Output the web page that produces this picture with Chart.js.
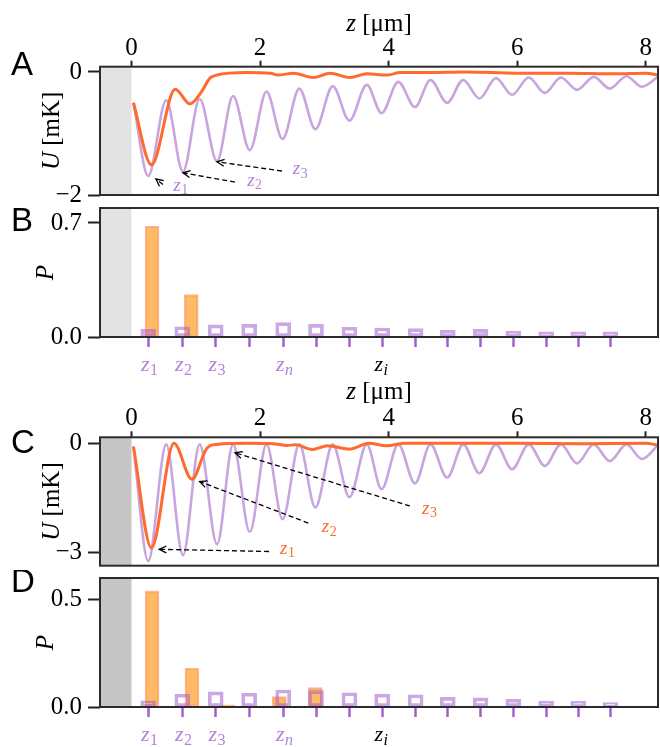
<!DOCTYPE html>
<html>
<head>
<meta charset="utf-8">
<script src="https://cdn.jsdelivr.net/npm/chart.js@4.4.1/dist/chart.umd.min.js"></script>
<style>
  body { margin: 0; background: #fff; }
  #wrap { position: relative; width: 660px; height: 747px; }
  canvas { position: absolute; left: 0; }
</style>
</head>
<body>
<div id="wrap">
  <canvas id="panelA" width="660" height="212" style="top:0px"></canvas>
  <canvas id="panelB" width="660" height="180" style="top:200px"></canvas>
  <canvas id="panelC" width="660" height="200" style="top:380px"></canvas>
  <canvas id="panelD" width="660" height="177" style="top:570px"></canvas>
</div>
<script>
// ---- values ----
const zMin = -0.49, zMax = 8.19;
const zTicks = [0, 2, 4, 6, 8];

// lattice sites z_i [um] and their labels
const siteZ = [0.26, 0.79, 1.31, 1.83, 2.36, 2.87, 3.39, 3.90, 4.42, 4.92, 5.43, 5.94, 6.45, 6.95, 7.45];
const siteSub = ["1", "2", "3", "", "n", "", "", "", "", "", "", "", "", "", ""];

// lattice potential: start, then alternating minima / maxima
const zLattice = [0.03, 0.26, 0.54, 0.80, 1.06, 1.33, 1.58, 1.84, 2.10, 2.35, 2.61, 2.86, 3.13, 3.39, 3.66,
  3.89, 4.15, 4.41, 4.65, 4.91, 5.16, 5.41, 5.67, 5.92, 6.18, 6.43, 6.68, 6.93, 7.19, 7.44, 7.70, 7.94, 8.20];
const uLatticeA = [-0.50, -1.69, -0.46, -1.62, -0.44, -1.45, -0.39, -1.27, -0.32, -1.09, -0.27, -0.93, -0.23,
  -0.79, -0.21, -0.67, -0.16, -0.57, -0.13, -0.50, -0.13, -0.43, -0.10, -0.37, -0.09, -0.34, -0.09, -0.29,
  -0.08, -0.27, -0.07, -0.24, -0.07];
const uLatticeC = [-0.09, -3.23, -0.03, -3.07, -0.03, -2.77, -0.03, -2.43, -0.03, -2.08, -0.03, -1.76, -0.03,
  -1.48, -0.03, -1.26, -0.03, -1.10, -0.03, -0.94, -0.03, -0.82, -0.03, -0.71, -0.03, -0.62, -0.03, -0.55,
  -0.03, -0.49, -0.03, -0.43, -0.03];

// effective (orange) potential
const zOrangeA = [0.03, 0.31, 0.68, 0.91, 1.09, 1.22, 1.33, 1.79, 2.16, 2.28, 2.52, 2.83, 3.09, 3.40, 3.66,
  3.97, 4.18, 4.6, 5.2, 6.0, 6.8, 7.5, 8.0, 8.19];
const uOrangeA = [-0.50, -1.51, -0.28, -0.52, -0.32, -0.10, -0.05, -0.01, -0.02, -0.05, -0.02, -0.09, -0.02,
  -0.09, -0.03, -0.05, -0.01, -0.01, 0.0, -0.02, -0.02, -0.03, -0.02, -0.05];
const zOrangeC = [0.03, 0.31, 0.66, 0.94, 1.17, 1.33, 1.80, 2.20, 2.42, 2.55, 2.81, 3.05, 3.40, 3.69, 3.97,
  4.25, 5.0, 6.0, 7.0, 8.0, 8.19];
const uOrangeC = [-0.09, -2.87, 0.0, -0.99, -0.14, -0.03, 0.0, -0.01, -0.06, -0.04, -0.17, -0.07, -0.16, 0.0,
  -0.07, 0.0, 0.0, 0.0, -0.01, 0.0, -0.05];

// occupation probabilities
const pLatticeB = [0.047, 0.063, 0.074, 0.078, 0.088, 0.078, 0.060, 0.055, 0.051, 0.041, 0.047, 0.037, 0.031, 0.031, 0.031];
const zOrangeB = [0.32, 0.93];
const pOrangeB = [0.68, 0.26];
const pLatticeD = [0.029, 0.059, 0.070, 0.064, 0.079, 0.076, 0.066, 0.060, 0.057, 0.045, 0.042, 0.036, 0.028, 0.026, 0.020];
const zOrangeD = [0.32, 0.94, 1.50, 2.30, 2.86];
const pOrangeD = [0.54, 0.18, 0.01, 0.048, 0.09];

// arrow annotations: [label sub, label pos, tail, head] in (z, U)
const notesA = [
  ["1", [0.65, -1.85], [0.49, -1.83], [0.38, -1.74]],
  ["2", [1.80, -1.77], [1.61, -1.79], [0.80, -1.64]],
  ["3", [2.51, -1.58], [2.34, -1.61], [1.33, -1.46]],
];
const notesC = [
  ["1", [2.31, -2.90], [2.14, -2.97], [0.43, -2.91]],
  ["2", [2.96, -2.30], [2.75, -2.19], [1.06, -1.05]],
  ["3", [4.52, -1.80], [4.33, -1.72], [1.61, -0.26]],
];

// ---- styling ----
const SERIF = '"Liberation Serif", "DejaVu Serif", serif';
const SANS = '"Liberation Sans", Arial, sans-serif';
const ORANGE = "#ff6a30";
const PURPLE_LINE = "#c9a5df";
const PURPLE_BOX = "rgba(160,95,205,0.55)";
const PURPLE_TICK = "#a45fcf";
const PURPLE_TEXT = "#b283d6";
const AXIS = "#222";

function fixAxis(size) {
  return (scale) => {
    if (scale.isHorizontal()) scale.height = size;
    else scale.width = size;
    scale.paddingTop = scale.paddingBottom = scale.paddingLeft = scale.paddingRight = 0;
  };
}
function setTicks(values) {
  return (scale) => { scale.ticks = values.map(v => ({ value: v })); };
}
const fmt = (digits) => (v) => (v < 0 ? "\u2212" : "") + Math.abs(v).toFixed(digits);
const pts = (xs, ys) => xs.map((x, i) => ({ x: x, y: ys[i] }));

// italic base letter with a subscript
function subText(ctx, cx, y, sub, size, color, align) {
  ctx.save();
  ctx.fillStyle = color;
  ctx.textBaseline = "alphabetic";
  ctx.textAlign = "left";
  const subSize = Math.round(size * 0.72);
  const subFont = (/[0-9]/.test(sub) ? "" : "italic ") + subSize + "px " + SERIF;
  ctx.font = "italic " + size + "px " + SERIF;
  const w1 = ctx.measureText("z").width;
  ctx.font = subFont;
  const w2 = ctx.measureText(sub).width;
  let x = align === "center" ? cx - (w1 + w2) / 2 : cx;
  ctx.font = "italic " + size + "px " + SERIF;
  ctx.fillText("z", x, y);
  ctx.font = subFont;
  ctx.fillText(sub, x + w1 + 0.5, y + size * 0.18);
  ctx.restore();
}

function decoPlugin(o) {
  return {
    id: "deco",
    beforeDatasetsDraw(chart) {
      const { ctx, chartArea: a, scales } = chart;
      const x0 = scales.x.getPixelForValue(0);
      ctx.save();
      ctx.fillStyle = o.shade;
      ctx.fillRect(a.left, a.top, x0 - a.left, a.bottom - a.top);
      ctx.restore();
    },
    afterDraw(chart) {
      const { ctx, chartArea: a } = chart;
      ctx.save();
      ctx.strokeStyle = "#2b2b2b";
      ctx.lineWidth = 2;
      ctx.strokeRect(a.left, a.top, a.right - a.left, a.bottom - a.top);

      ctx.fillStyle = "#000";
      ctx.font = "33px " + SANS;
      ctx.textBaseline = "alphabetic";
      ctx.textAlign = "left";
      ctx.fillText(o.letter, 11, o.letterY);

      // rotated y title, italic symbol + upright unit
      ctx.translate(o.yTitleX, (a.top + a.bottom) / 2);
      ctx.rotate(-Math.PI / 2);
      ctx.font = "italic 25px " + SERIF;
      const w1 = ctx.measureText(o.ySym).width;
      ctx.font = "25px " + SERIF;
      const w2 = ctx.measureText(o.yUnit).width;
      let x = -(w1 + w2) / 2;
      ctx.font = "italic 25px " + SERIF;
      ctx.fillText(o.ySym, x, 0);
      ctx.font = "25px " + SERIF;
      ctx.fillText(o.yUnit, x + w1, 0);
      ctx.restore();

      if (o.topTitleY) {
        ctx.save();
        ctx.fillStyle = "#000";
        ctx.textBaseline = "alphabetic";
        ctx.font = "italic 25px " + SERIF;
        const a1 = ctx.measureText("z").width;
        ctx.font = "25px " + SERIF;
        const a2 = ctx.measureText(" [\u03bcm]").width;
        const sx = (a.left + a.right) / 2 - (a1 + a2) / 2;
        ctx.font = "italic 25px " + SERIF;
        ctx.fillText("z", sx, o.topTitleY);
        ctx.font = "25px " + SERIF;
        ctx.fillText(" [\u03bcm]", sx + a1, o.topTitleY);
        ctx.restore();
      }

      if (o.siteLabels) {
        const sx = chart.scales.x;
        siteZ.forEach((z, i) => {
          if (siteSub[i]) subText(ctx, sx.getPixelForValue(z) + 1, o.siteLabelY, siteSub[i], 22, PURPLE_TEXT, "center");
        });
        subText(ctx, (a.left + a.right) / 2 + 2, o.siteLabelY, "i", 22, "#000", "center");
      }
    }
  };
}

function arrowPlugin(notes, color) {
  return {
    id: "arrows",
    afterDatasetsDraw(chart) {
      const { ctx, scales: { x, y } } = chart;
      notes.forEach(([sub, lab, tail, head]) => {
        const tx = x.getPixelForValue(tail[0]), ty = y.getPixelForValue(tail[1]);
        const hx = x.getPixelForValue(head[0]), hy = y.getPixelForValue(head[1]);
        ctx.save();
        ctx.strokeStyle = "#000";
        ctx.lineWidth = 1.3;
        ctx.setLineDash([5, 3]);
        ctx.beginPath();
        ctx.moveTo(tx, ty);
        ctx.lineTo(hx, hy);
        ctx.stroke();
        ctx.setLineDash([]);
        const ang = Math.atan2(ty - hy, tx - hx);
        ctx.beginPath();
        ctx.moveTo(hx + 8 * Math.cos(ang + 0.45), hy + 8 * Math.sin(ang + 0.45));
        ctx.lineTo(hx, hy);
        ctx.lineTo(hx + 8 * Math.cos(ang - 0.45), hy + 8 * Math.sin(ang - 0.45));
        ctx.stroke();
        ctx.restore();
        subText(ctx, x.getPixelForValue(lab[0]), y.getPixelForValue(lab[1]) + 5, sub, 19, color, "left");
      });
    }
  };
}

function topX(height) {
  return {
    type: "linear", position: "top", min: zMin, max: zMax,
    afterBuildTicks: setTicks(zTicks), afterFit: fixAxis(height),
    ticks: { font: { family: SERIF, size: 25, lineHeight: 1 }, color: "#000", padding: 0, maxRotation: 0 },
    grid: { drawOnChartArea: false, tickLength: 6, tickWidth: 2, tickColor: AXIS },
    border: { display: false },
  };
}
function bottomX(height) {
  return {
    type: "linear", position: "bottom", min: zMin, max: zMax, offset: false,
    afterBuildTicks: setTicks(siteZ), afterFit: fixAxis(height),
    ticks: { display: false },
    grid: { offset: false, drawOnChartArea: false, tickLength: 10, tickWidth: 2.5, tickColor: PURPLE_TICK },
    border: { display: false },
  };
}
function leftY(min, max, ticks, digits) {
  return {
    min: min, max: max,
    afterBuildTicks: setTicks(ticks), afterFit: fixAxis(100),
    ticks: { callback: fmt(digits), font: { family: SERIF, size: 25 }, color: "#000", padding: 6 },
    grid: { drawOnChartArea: false, tickLength: 12, tickWidth: 2, tickColor: AXIS },
    border: { display: false },
  };
}

function potentialChart(id, uLattice, zOrange, uOrange, yMin, yMax, yTick, pad, topH, deco, notes, noteColor) {
  return new Chart(document.getElementById(id), {
    type: "line",
    data: {
      datasets: [
        { data: pts(zOrange, uOrange), borderColor: ORANGE, borderWidth: 3, pointRadius: 0,
          cubicInterpolationMode: "monotone", order: 0 },
        { data: pts(zLattice, uLattice), borderColor: PURPLE_LINE, borderWidth: 2.6, pointRadius: 0,
          cubicInterpolationMode: "monotone", order: 1 },
      ],
    },
    options: {
      responsive: false, animation: false,
      layout: { padding: pad },
      plugins: { legend: { display: false }, tooltip: { enabled: false } },
      scales: { x: topX(topH), y: leftY(yMin, yMax, yTick, 0) },
    },
    plugins: [decoPlugin(deco), arrowPlugin(notes, noteColor)],
  });
}

function probChart(id, pLattice, zOrange, pOrange, yMax, yTick, pad, bottomH, deco) {
  return new Chart(document.getElementById(id), {
    type: "bar",
    data: {
      datasets: [
        { data: pts(siteZ, pLattice), backgroundColor: "rgba(0,0,0,0)", borderColor: PURPLE_BOX,
          borderWidth: 3, borderSkipped: false, barThickness: 15, grouped: false, order: 0 },
        { data: pts(zOrange, pOrange), backgroundColor: "rgba(255,140,0,0.6)", borderColor: "rgba(255,69,0,0.4)",
          borderWidth: 1.5, borderSkipped: false, barThickness: 14, grouped: false, order: 1 },
      ],
    },
    options: {
      responsive: false, animation: false,
      layout: { padding: pad },
      plugins: { legend: { display: false }, tooltip: { enabled: false } },
      scales: { x: bottomX(bottomH), y: leftY(0, yMax, yTick, 1) },
    },
    plugins: [decoPlugin(deco)],
  });
}

potentialChart("panelA", uLatticeA, zOrangeA, uOrangeA, -2, 0.086, [-2, 0],
  { top: 0, bottom: 17, left: 0, right: 2 }, 66.7,
  { shade: "#e3e3e3", letter: "A", letterY: 75, yTitleX: 59, ySym: "U", yUnit: " [mK]", topTitleY: 31 },
  notesA, PURPLE_TEXT);

probChart("panelB", pLatticeB, zOrangeB, pOrangeB, 0.792, [0, 0.7],
  { top: 8, bottom: 0, left: 0, right: 2 }, 43,
  { shade: "#e3e3e3", letter: "B", letterY: 31, yTitleX: 53, ySym: "P", yUnit: "", siteLabels: true, siteLabelY: 171 });

potentialChart("panelC", uLatticeC, zOrangeC, uOrangeC, -3.36, 0.165, [-3, 0],
  { top: 0, bottom: 14.3, left: 0, right: 2 }, 57.3,
  { shade: "#c6c6c6", letter: "C", letterY: 73, yTitleX: 59, ySym: "U", yUnit: " [mK]", topTitleY: 19 },
  notesC, ORANGE);

probChart("panelD", pLatticeD, zOrangeD, pOrangeD, 0.599, [0, 0.5],
  { top: 8, bottom: 0, left: 0, right: 2 }, 40,
  { shade: "#c6c6c6", letter: "D", letterY: 22, yTitleX: 53, ySym: "P", yUnit: "", siteLabels: true, siteLabelY: 171 });
</script>
</body>
</html>
